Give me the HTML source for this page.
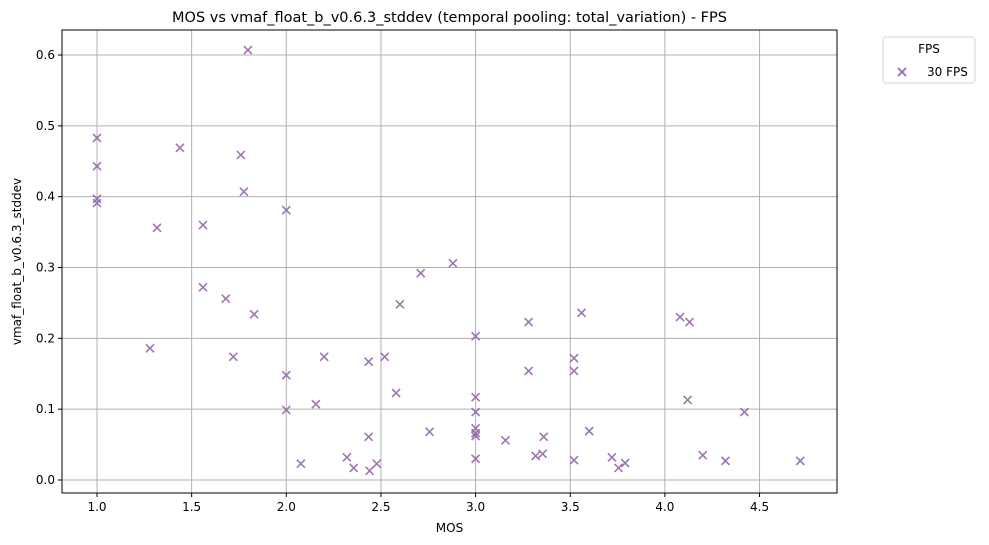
<!DOCTYPE html>
<html><head><meta charset="utf-8"><style>
body{margin:0;background:#fff;font-family:"DejaVu Sans","Liberation Sans",sans-serif;}
svg{display:block}
</style></head><body>
<svg id="chart" width="989" height="545" xmlns="http://www.w3.org/2000/svg"></svg>
<script>
const mosValues=[1.0,1.0,1.0,1.0,1.317,1.438,1.28,1.56,1.56,1.68,1.72,1.76,1.776,1.797,1.83,2.0,2.0,2.0,2.077,2.156,2.2,2.32,2.356,2.435,2.435,2.44,2.478,2.52,2.58,2.6,2.71,2.757,2.88,3.0,3.0,3.0,3.0,3.0,3.0,3.0,3.158,3.28,3.28,3.317,3.354,3.36,3.52,3.52,3.52,3.56,3.6,3.72,3.755,3.79,4.08,4.13,4.12,4.2,4.32,4.42,4.715];
const stddevValues=[0.483,0.443,0.397,0.391,0.356,0.469,0.186,0.36,0.272,0.256,0.174,0.459,0.407,0.607,0.234,0.381,0.148,0.099,0.023,0.107,0.174,0.032,0.017,0.061,0.167,0.013,0.023,0.174,0.123,0.248,0.292,0.068,0.306,0.203,0.117,0.096,0.073,0.066,0.062,0.030,0.056,0.223,0.154,0.034,0.037,0.061,0.172,0.154,0.028,0.236,0.069,0.032,0.017,0.024,0.230,0.223,0.113,0.035,0.027,0.096,0.027];
const xTicks=[1.0,1.5,2.0,2.5,3.0,3.5,4.0,4.5];
const yTicks=[0.0,0.1,0.2,0.3,0.4,0.5,0.6];
const L=62,R=837,T=30,B=493;
const xs=v=>97+(v-1)*189.3;
const ys=v=>480-v*708.3;
const NS="http://www.w3.org/2000/svg";
const svg=document.getElementById('chart');
function mk(tag,attrs,parent){const e=document.createElementNS(NS,tag);for(const k in attrs)e.setAttribute(k,attrs[k]);(parent||svg).appendChild(e);return e;}
const grid=mk('g',{});


xTicks.forEach(t=>{const x=xs(t);
 const g=mk('line',{x1:x,x2:x,y1:T,y2:B,stroke:'#b0b0b0','stroke-width':1},grid);
 
 
 mk('line',{x1:x,x2:x,y1:B,y2:B+4,stroke:'#000'});
 const tx=mk('text',{x:x,y:B+18,'text-anchor':'middle','font-size':12,fill:'#000'});tx.textContent=t.toFixed(1);
 
 
});
yTicks.forEach(t=>{const y=ys(t);
 const g=mk('line',{x1:L,x2:R,y1:y,y2:y,stroke:'#b0b0b0','stroke-width':1},grid);
 
 
 mk('line',{x1:L-4,x2:L,y1:y,y2:y,stroke:'#000'});
 const tx=mk('text',{x:L-7,y:y+4,'text-anchor':'end','font-size':12,fill:'#000'});tx.textContent=t.toFixed(1);
 
 
});
const pts=mk('g',{});


mosValues.forEach((m,i)=>{const x=xs(m),y=ys(stddevValues[i]),s=4;
 const p=mk('path',{d:`M${x-s},${y-s}L${x+s},${y+s}M${x-s},${y+s}L${x+s},${y-s}`,stroke:'#9467a8','stroke-opacity':0.9,'stroke-width':1.6},pts);
 
 
});
const frame=mk('rect',{x:L,y:T,width:R-L,height:B-T,fill:'none',stroke:'#000','stroke-width':1});


const title=mk('text',{x:(L+R)/2,y:22,'text-anchor':'middle','font-size':14.5,fill:'#000'});
title.textContent='MOS vs vmaf_float_b_v0.6.3_stddev (temporal pooling: total_variation) - FPS';


const xl=mk('text',{x:(L+R)/2,y:532,'text-anchor':'middle','font-size':12,fill:'#000'});
xl.textContent='MOS';


const yl=mk('text',{x:0,y:0,transform:`translate(21,${(T+B)/2}) rotate(-90)`,'text-anchor':'middle','font-size':12,fill:'#000'});
yl.textContent='vmaf_float_b_v0.6.3_stddev';


const lg=mk('g',{});


mk('rect',{x:883,y:37,width:92,height:46,rx:3,fill:'#fff',stroke:'#d5d5d5'},lg);
const lt=mk('text',{x:929,y:53,'text-anchor':'middle','font-size':12,fill:'#000'},lg);lt.textContent='FPS';


mk('path',{d:'M898,68L906,76M898,76L906,68',stroke:'#9467a8','stroke-width':1.6},lg);
const le=mk('text',{x:927,y:76,'font-size':12,fill:'#000'},lg);le.textContent='30 FPS';


</script>
</body></html>
